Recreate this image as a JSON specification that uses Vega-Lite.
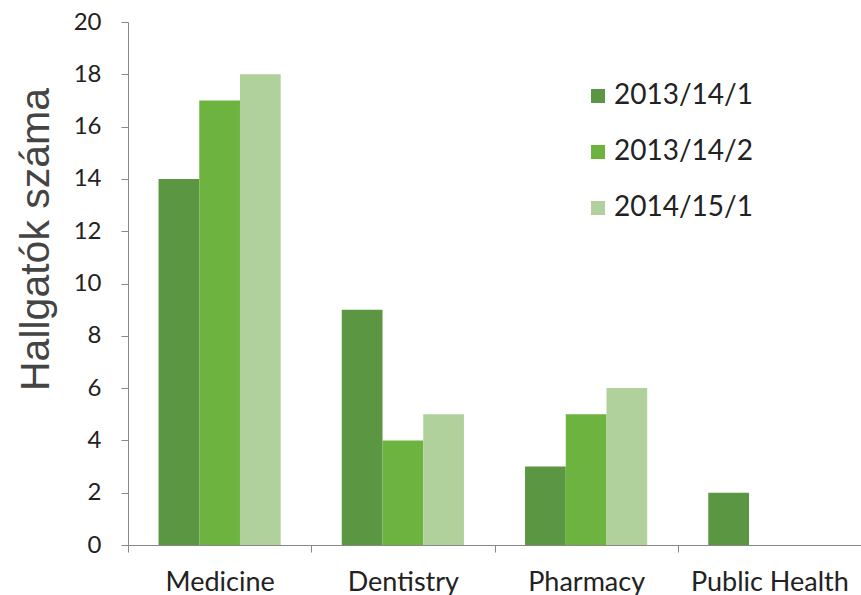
{
  "$schema": "https://vega.github.io/schema/vega-lite/v6.json",
  "autosize": {"type": "none"},
  "padding": {"left": 128, "top": 22, "right": 0, "bottom": 50},
  "width": 733,
  "height": 523,
  "background": "white",
  "data": {
    "values": [
      {"field": "Medicine", "term": "2013/14/1", "count": 14},
      {"field": "Medicine", "term": "2013/14/2", "count": 17},
      {"field": "Medicine", "term": "2014/15/1", "count": 18},
      {"field": "Dentistry", "term": "2013/14/1", "count": 9},
      {"field": "Dentistry", "term": "2013/14/2", "count": 4},
      {"field": "Dentistry", "term": "2014/15/1", "count": 5},
      {"field": "Pharmacy", "term": "2013/14/1", "count": 3},
      {"field": "Pharmacy", "term": "2013/14/2", "count": 5},
      {"field": "Pharmacy", "term": "2014/15/1", "count": 6},
      {"field": "Public Health", "term": "2013/14/1", "count": 2}
    ]
  },
  "config": {
    "view": {"stroke": null},
    "axis": {"grid": false}
  },
  "mark": {"type": "bar"},
  "encoding": {
    "x": {
      "field": "field",
      "type": "nominal",
      "sort": ["Medicine", "Dentistry", "Pharmacy", "Public Health"],
      "scale": {"paddingInner": 0, "paddingOuter": 0},
      "axis": {
        "title": null,
        "labelAngle": 0,
        "labelFont": "Lato",
        "labelFontSize": 27,
        "labelColor": "#222",
        "labelPadding": 17,
        "domainColor": "#888",
        "tickColor": "#888",
        "tickSize": 7,
        "tickBand": "extent"
      }
    },
    "xOffset": {
      "field": "term",
      "type": "nominal",
      "scale": {"domain": ["2013/14/1", "2013/14/2", "2014/15/1"], "paddingInner": 0, "paddingOuter": 0.75}
    },
    "y": {
      "field": "count",
      "type": "quantitative",
      "scale": {"domain": [0, 20]},
      "axis": {
        "title": "Hallgatók száma",
        "titleFont": "Liberation Sans",
        "titleFontSize": 41,
        "titleFontWeight": "normal",
        "titleColor": "#444",
        "titlePadding": 16,
        "titleY": 217,
        "values": [0, 2, 4, 6, 8, 10, 12, 14, 16, 18, 20],
        "labelFont": "Lato",
        "labelFontSize": 24,
        "labelColor": "#222",
        "labelPadding": 20,
        "domainColor": "#888",
        "tickColor": "#888",
        "tickSize": 7
      }
    },
    "color": {
      "field": "term",
      "type": "nominal",
      "scale": {"domain": ["2013/14/1", "2013/14/2", "2014/15/1"], "range": ["#5b9642", "#6db33f", "#b0d19b"]},
      "legend": {
        "title": null,
        "orient": "none",
        "legendX": 456,
        "legendY": 60,
        "symbolType": "square",
        "symbolSize": 196,
        "symbolStrokeWidth": 0,
        "labelFont": "Lato",
        "labelFontSize": 28,
        "labelColor": "#222",
        "labelOffset": 2,
        "rowPadding": 28
      }
    }
  }
}
